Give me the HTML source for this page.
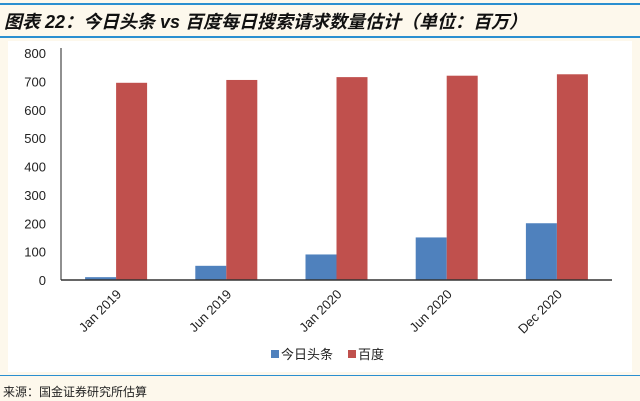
<!DOCTYPE html>
<html><head><meta charset="utf-8"><style>
body{margin:0;width:640px;height:401px;background:#fdf8ec;font-family:"Liberation Sans","Noto Sans CJK SC",sans-serif;position:relative;overflow:hidden}
</style></head><body>
<div style="position:absolute;left:0;top:3px;width:640px;height:2px;background:#2a8fd0"></div>
<div style="position:absolute;left:4px;top:8px;font-size:18px;font-weight:bold;font-style:italic;color:#111">图表 22：今日头条 vs 百度每日搜索请求数量估计（单位：百万）</div>
<div style="position:absolute;left:0;top:36px;width:640px;height:2px;background:#2a8fd0"></div>
<svg style="position:absolute;left:0;top:0" width="640" height="401">
<rect x="8" y="41" width="624" height="331" fill="#fff"/>
<g id="g"></g>
</svg>
<div style="position:absolute;left:0;top:375px;width:640px;height:1px;background:#2a8fd0"></div>
<div style="position:absolute;left:3px;top:383px;font-size:12px;color:#222">来源：国金证券研究所估算</div>
<script>
const categories=["Jan 2019","Jun 2019","Jan 2020","Jun 2020","Dec 2020"];
const toutiao=[10,50,90,150,200];
const baidu=[695,705,715,720,725];
const yTicks=[0,100,200,300,400,500,600,700,800];
const x0=61,x1=612,yb=280,yt=53;
const y=v=>yb-(v/800)*(yb-yt);
const gw=(x1-x0)/categories.length, bw=31;
const g=document.getElementById('g');
const NS='http://www.w3.org/2000/svg';
function el(t,a){const e=document.createElementNS(NS,t);for(const k in a)e.setAttribute(k,a[k]);g.appendChild(e);return e;}
yTicks.forEach(v=>{const t=el('text',{x:46,y:y(v)+5,'text-anchor':'end','font-size':13,fill:'#222'});t.textContent=v;

});
categories.forEach((c,i)=>{const cx=x0+gw*(i+0.5);
const b=el('rect',{x:cx-bw,y:y(toutiao[i]),width:bw,height:yb-y(toutiao[i]),fill:'#4f81bd'});


const r=el('rect',{x:cx,y:y(baidu[i]),width:bw,height:yb-y(baidu[i]),fill:'#c0504d'});


const t=el('text',{x:cx+6,y:yb+15,'text-anchor':'end','font-size':13,fill:'#222',transform:`rotate(-45 ${cx+6} ${yb+15})`});t.textContent=c;

});
const ya=el('line',{x1:x0,y1:yt-5,x2:x0,y2:yb,stroke:'#222','stroke-width':1});


const xa=el('line',{x1:x0,y1:yb,x2:x1,y2:yb,stroke:'#333','stroke-width':1.5});


const l1=el('rect',{x:271,y:350,width:8,height:8,fill:'#4f81bd'});


const lt1=el('text',{x:281,y:359,'font-size':13,fill:'#222'});lt1.textContent='今日头条';


const l2=el('rect',{x:348,y:350,width:8,height:8,fill:'#c0504d'});


const lt2=el('text',{x:358,y:359,'font-size':13,fill:'#222'});lt2.textContent='百度';


</script>
</body></html>
